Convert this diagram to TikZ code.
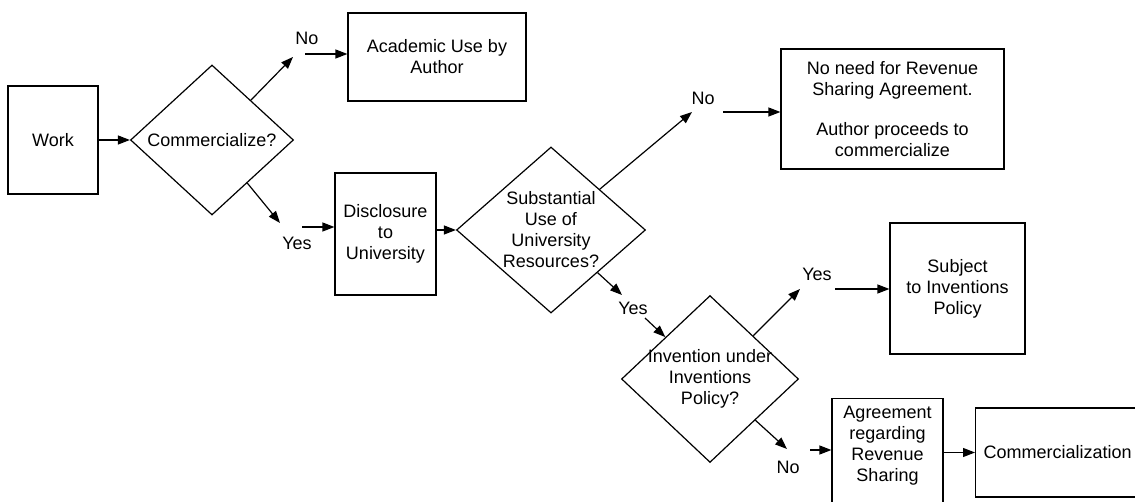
\documentclass[tikz,border=0pt]{standalone}
\usepackage{fontspec}
\setmainfont{Liberation Sans}
\usepackage{tikz}
\usetikzlibrary{arrows.meta,shapes.geometric}

\begin{document}
\begin{tikzpicture}[x=1pt, y=-1pt, >={Triangle[length=12pt,width=9pt]},
    line width=1.2pt, font=\fontsize{18}{21}\selectfont,
    box/.style={rectangle, draw, align=center, inner sep=4pt},
    ques/.style={diamond, draw, align=center, inner sep=-4pt},
    lbl/.style={inner sep=1pt}]
  \useasboundingbox (0,0) rectangle (1135,502);

  \node[box]  (W)  at (53,140)    [minimum width=90,  minimum height=108] {Work};
  \node[ques] (Q1) at (212,140)   [minimum width=163, minimum height=150] {Commercialize?};
  \node[box]  (A)  at (437,57)    [minimum width=178, minimum height=88]  {Academic Use by\\Author};
  \node[box]  (D)  at (385.5,234) [minimum width=101, minimum height=122] {Disclosure\\to\\University};
  \node[ques] (Q2) at (551,230)   [minimum width=189, minimum height=166] {Substantial\\Use of\\University\\Resources?};
  \node[box]  (N)  at (892.5,109) [minimum width=223, minimum height=120] {No need for Revenue\\Sharing Agreement.\\[19pt]Author proceeds to\\commercialize};
  \node[ques] (Q3) at (710,379)   [minimum width=177, minimum height=161] {Invention under\\Inventions\\Policy?};
  \node[box]  (P)  at (957.5,288.5) [minimum width=135, minimum height=131] {Subject\\to Inventions\\Policy};
  \node[box, anchor=north, inner ysep=8pt, text depth=30pt]
              (R)  at (887.5,398) [minimum width=111] {Agreement\\regarding\\Revenue\\Sharing};
  \node[box, anchor=west, inner xsep=8pt, text width=180pt, align=left]
              (M)  at (975,452.5) [minimum height=89] {Commercialization};

  \node[lbl] (no1)  at (307,38)  {No};
  \node[lbl] (yes1) at (297,243) {Yes};
  \node[lbl] (no2)  at (703,98)  {No};
  \node[lbl] (yes2) at (633,308) {Yes};
  \node[lbl] (yes3) at (817,274) {Yes};
  \node[lbl] (no3)  at (788,467) {No};

  \coordinate (e1)  at (293,57);
  \coordinate (e2)  at (305,54);
  \coordinate (e3)  at (280,223);
  \coordinate (e4)  at (302,227);
  \coordinate (e5)  at (692,112);
  \coordinate (e6)  at (723,112);
  \coordinate (e7)  at (622,295);
  \coordinate (e8)  at (645,318);
  \coordinate (e9)  at (800,289);
  \coordinate (e10) at (835,289);
  \coordinate (e11) at (787,449);
  \coordinate (e12) at (810,450);

  \path[->] (W)            edge (Q1)
            (Q1)           edge (e1)
            (e2)           edge (e2 -| A.west)
            (Q1)           edge (e3)
            (e4)           edge (e4 -| D.west)
            (D.east |- Q2) edge (Q2)
            (Q2)           edge (e5)
            (e6)           edge (e6 -| N.west)
            (Q2)           edge (e7)
            (e8)           edge (Q3)
            (Q3)           edge (e9)
            (e10)          edge (e10 -| P.west)
            (Q3)           edge (e11)
            (e12)          edge (e12 -| R.west)
            (R.east |- M)  edge (M)
            ;
\end{tikzpicture}
\end{document}
